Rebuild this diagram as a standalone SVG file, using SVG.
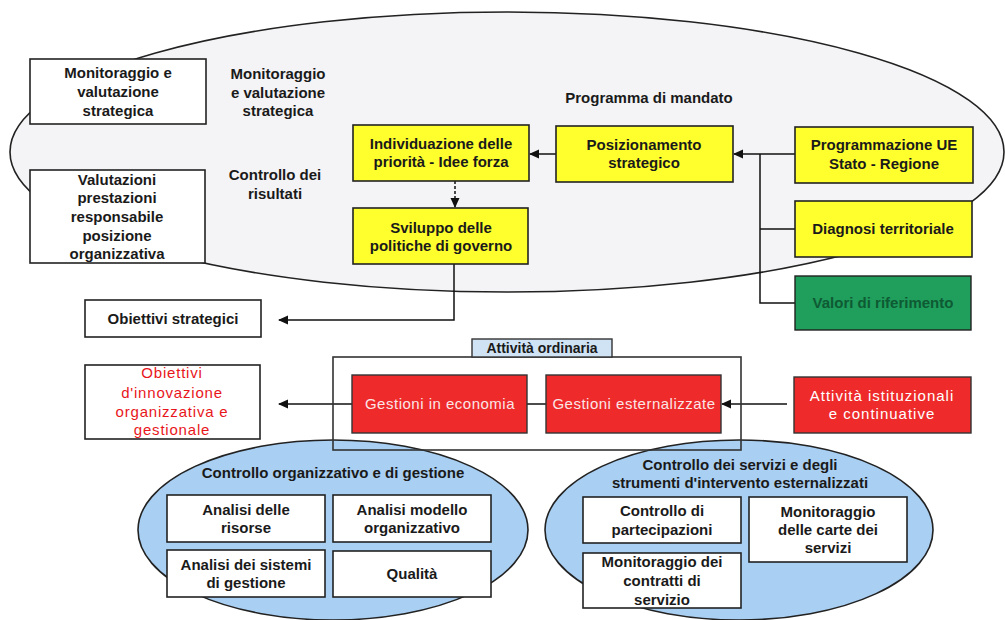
<svg xmlns="http://www.w3.org/2000/svg" width="1005" height="620" viewBox="0 0 1005 620">
<defs>
<marker id="arr" markerUnits="userSpaceOnUse" markerWidth="10" markerHeight="10" viewBox="0 0 10 10" refX="9" refY="5" orient="auto">
<path d="M0,0.5 L10,5 L0,9.5 Z" fill="#111"/>
</marker>
<style>
text{font-family:"Liberation Sans",Arial,sans-serif;font-size:15px;text-anchor:middle;fill:#1a1a1a}
.b{font-weight:bold}
.box{fill:#fff;stroke:#222;stroke-width:1.6}
.yel{fill:#ffff2e;stroke:#222;stroke-width:1.6}
.red{fill:#ee2a2a;stroke:#333;stroke-width:1.4}
.con{fill:none;stroke:#111;stroke-width:1.5}
.wt{fill:#fbe6e6;letter-spacing:0.5px}
</style>
</defs>
<rect width="1005" height="620" fill="#fff"/>
<g id="ellipse-strategico">
<ellipse cx="507" cy="152" rx="497" ry="140" fill="#f4f4f6" stroke="#222" stroke-width="1.6"/>
</g>
<g id="ellipse-organizzativo">
<ellipse cx="333" cy="530" rx="195" ry="90" fill="#a9cff2" stroke="#222" stroke-width="1.6"/>
<text class="b" x="333" y="478">Controllo organizzativo e di gestione</text>
</g>
<g id="ellipse-servizi">
<ellipse cx="739" cy="530" rx="194" ry="90" fill="#a9cff2" stroke="#222" stroke-width="1.6"/>
<text class="b" x="740" y="470">Controllo dei servizi e degli</text>
<text class="b" x="740" y="488">strumenti d'intervento esternalizzati</text>
</g>
<g id="connectors">
<line class="con" x1="556" y1="154" x2="530" y2="154" marker-end="url(#arr)"/>
<line class="con" x1="795" y1="154" x2="734" y2="154" marker-end="url(#arr)"/>
<path class="con" d="M760,154 V303 H795 M760,229 H795"/>
<line class="con" x1="455" y1="181" x2="455" y2="207" stroke-dasharray="3,2" marker-end="url(#arr)"/>
<path class="con" d="M454,264 V320 H279" marker-end="url(#arr)"/>
<path class="con" d="M352,404 H279" marker-end="url(#arr)"/>
<path class="con" d="M527,404 H546"/>
<path class="con" d="M787,404 H722" marker-end="url(#arr)"/>
</g>
<g id="monitoraggio-box">
<rect class="box" x="30" y="59" width="176" height="65"/>
<text class="b" x="118" y="78">Monitoraggio e</text>
<text class="b" x="118" y="97">valutazione</text>
<text class="b" x="118" y="116">strategica</text>
</g>
<g id="valutazioni-box">
<rect class="box" x="30" y="170" width="175" height="93"/>
<text class="b" x="117" y="185">Valutazioni</text>
<text class="b" x="117" y="203">prestazioni</text>
<text class="b" x="117" y="222">responsabile</text>
<text class="b" x="117" y="241">posizione</text>
<text class="b" x="117" y="259">organizzativa</text>
</g>
<g id="label-monitoraggio">
<text class="b" x="278" y="79">Monitoraggio</text>
<text class="b" x="278" y="98">e valutazione</text>
<text class="b" x="278" y="116">strategica</text>
</g>
<g id="label-controllo">
<text class="b" x="275" y="180">Controllo dei</text>
<text class="b" x="275" y="199">risultati</text>
</g>
<g id="label-programma">
<text class="b" x="649" y="103">Programma di mandato</text>
</g>
<g id="individuazione">
<rect class="yel" x="353" y="125" width="176" height="56"/>
<text class="b" x="441" y="149">Individuazione delle</text>
<text class="b" x="441" y="167">priorità - Idee forza</text>
</g>
<g id="sviluppo">
<rect class="yel" x="353" y="208" width="175" height="56"/>
<text class="b" x="441" y="233">Sviluppo delle</text>
<text class="b" x="441" y="251">politiche di governo</text>
</g>
<g id="posizionamento">
<rect class="yel" x="556" y="126" width="177" height="56"/>
<text class="b" x="644" y="150">Posizionamento</text>
<text class="b" x="644" y="168">strategico</text>
</g>
<g id="programmazione">
<rect class="yel" x="795" y="127" width="178" height="56"/>
<text class="b" x="884" y="150">Programmazione UE</text>
<text class="b" x="884" y="169">Stato - Regione</text>
</g>
<g id="diagnosi">
<rect class="yel" x="795" y="201" width="177" height="56"/>
<text class="b" x="883" y="234" fill="#3a3a10">Diagnosi territoriale</text>
</g>
<g id="valori">
<rect x="795" y="276" width="176" height="54" fill="#1f9e5c" stroke="#222" stroke-width="1.4"/>
<text class="b" x="883" y="308" style="fill:#0e5a33">Valori di riferimento</text>
</g>
<g id="obiettivi-strategici">
<rect class="box" x="85" y="300" width="176" height="37"/>
<text class="b" x="173" y="324">Obiettivi strategici</text>
</g>
<g id="obiettivi-innovazione">
<rect class="box" x="85" y="365" width="175" height="74"/>
<text x="172" y="378" style="fill:#e8161b;letter-spacing:0.8px">Obiettivi</text>
<text x="172" y="398" style="fill:#e8161b;letter-spacing:0.8px">d'innovazione</text>
<text x="172" y="417" style="fill:#e8161b;letter-spacing:0.8px">organizzativa e</text>
<text x="172" y="435" style="fill:#e8161b;letter-spacing:0.8px">gestionale</text>
</g>
<g id="attivita-ordinaria">
<rect x="333" y="357" width="408" height="93" fill="none" stroke="#333" stroke-width="1.6"/>
<rect x="472" y="339" width="140" height="18" fill="#cfe3f5" stroke="#333" stroke-width="1.4"/>
<text class="b" x="542" y="353" style="font-size:14px">Attività ordinaria</text>
</g>
<g id="gestioni-economia">
<rect class="red" x="352" y="375" width="175" height="58"/>
<text class="wt" x="440" y="409">Gestioni in economia</text>
</g>
<g id="gestioni-esternalizzate">
<rect class="red" x="546" y="375" width="175" height="58"/>
<text class="wt" x="634" y="409">Gestioni esternalizzate</text>
</g>
<g id="attivita-istituzionali">
<rect class="red" x="794" y="377" width="177" height="56"/>
<text x="882" y="401" style="fill:#fff;letter-spacing:1px">Attività istituzionali</text>
<text x="882" y="419" style="fill:#fff;letter-spacing:1px">e continuative</text>
</g>
<g id="analisi-risorse">
<rect class="box" x="167" y="495" width="158" height="47"/>
<text class="b" x="246" y="515">Analisi delle</text>
<text class="b" x="246" y="533">risorse</text>
</g>
<g id="analisi-modello">
<rect class="box" x="333" y="495" width="158" height="47"/>
<text class="b" x="412" y="515">Analisi modello</text>
<text class="b" x="412" y="533">organizzativo</text>
</g>
<g id="analisi-sistemi">
<rect class="box" x="167" y="550" width="158" height="47"/>
<text class="b" x="246" y="570">Analisi dei sistemi</text>
<text class="b" x="246" y="588">di gestione</text>
</g>
<g id="qualita">
<rect class="box" x="333" y="551" width="158" height="46"/>
<text class="b" x="412" y="579">Qualità</text>
</g>
<g id="controllo-partecipazioni">
<rect class="box" x="583" y="497" width="158" height="46"/>
<text class="b" x="662" y="516">Controllo di</text>
<text class="b" x="662" y="535">partecipazioni</text>
</g>
<g id="monitoraggio-carte">
<rect class="box" x="749" y="497" width="158" height="65"/>
<text class="b" x="828" y="517">Monitoraggio</text>
<text class="b" x="828" y="535">delle carte dei</text>
<text class="b" x="828" y="553">servizi</text>
</g>
<g id="monitoraggio-contratti">
<rect class="box" x="583" y="553" width="158" height="55"/>
<text class="b" x="662" y="567">Monitoraggio dei</text>
<text class="b" x="662" y="586">contratti di</text>
<text class="b" x="662" y="605">servizio</text>
</g>
</svg>
